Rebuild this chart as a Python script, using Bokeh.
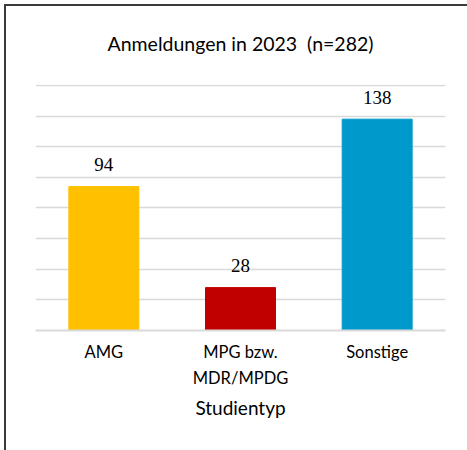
from bokeh.plotting import figure
from bokeh.models import ColumnDataSource, LabelSet, FactorRange, SingleIntervalTicker, Range1d
from bokeh.embed import file_html
from bokeh.resources import INLINE

categories = ["AMG", "MPG bzw.\nMDR/MPDG", "Sonstige"]
values = [94, 28, 138]
colors = ["#FFC000", "#C00000", "#0099CC"]
labels = [str(v) for v in values]
title_text = "Anmeldungen in 2023 \u00a0(n=282)"
axis_title = "Studientyp"

FONT = "Lato"

src = ColumnDataSource(dict(cat=categories, val=values, col=colors, lab=labels))

p = figure(
    x_range=FactorRange(*categories, range_padding=0),
    y_range=Range1d(0, 160.65),
    width=467, height=450,
    output_backend="svg", toolbar_location=None,
    min_border_left=35, min_border_right=22, min_border_top=84, min_border_bottom=120,
    styles={"box-shadow": "inset 4px 4px 0 0 #ffffff, inset 6px 6px 0 0 #3a3a3a",
            "background-color": "#ffffff"},
)
p.outline_line_color = None
p.background_fill_color = None
p.border_fill_color = None

p.vbar(x="cat", top="val", width=0.512, color="col", source=src)

p.add_layout(LabelSet(x="cat", y="val", text="lab", source=src, text_align="center",
                      text_baseline="alphabetic", y_offset=15.5,
                      text_font=FONT, text_font_size="19px", text_color="#000000"))

p.title.text = title_text
p.title.align = "center"
p.title.text_font = FONT
p.title.text_font_size = "19.5px"
p.title.text_font_style = "normal"
p.title.text_color = "#000000"
p.title.standoff = 59

p.yaxis.visible = False
p.ygrid.ticker = SingleIntervalTicker(interval=20)
p.ygrid.grid_line_color = "#d9d9d9"
p.ygrid.grid_line_width = 1.5
p.xgrid.grid_line_color = None

ax = p.xaxis[0]
ax.axis_line_color = "#d9d9d9"
ax.axis_line_width = 2
ax.major_tick_line_color = None
ax.minor_tick_line_color = None
ax.major_label_text_font = FONT
ax.major_label_text_font_size = "16.5px"
ax.major_label_text_color = "#000000"
ax.major_label_text_line_height = 1.33
ax.major_label_standoff = 5
ax.axis_label = axis_title
ax.axis_label_text_font = FONT
ax.axis_label_text_font_size = "19px"
ax.axis_label_text_font_style = "normal"
ax.axis_label_text_color = "#000000"
ax.axis_label_standoff = 5

open("out.html", "w").write(file_html(p, INLINE))
